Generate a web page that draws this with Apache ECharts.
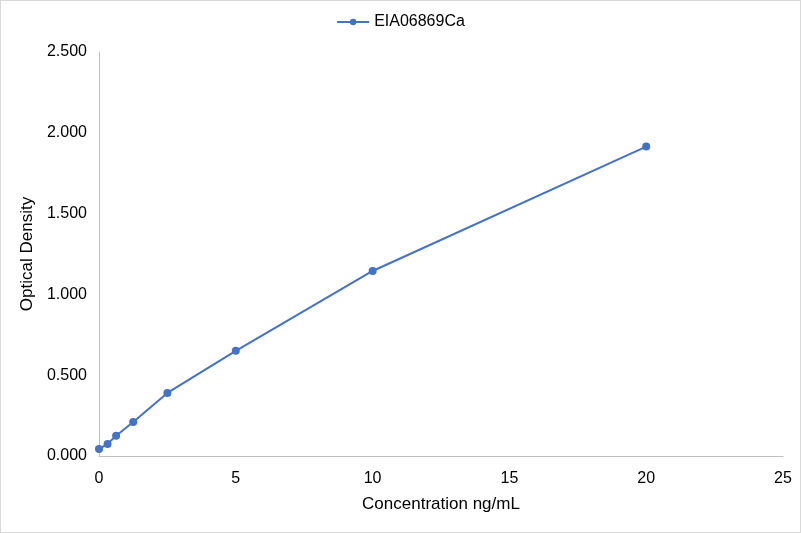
<!DOCTYPE html>
<html>
<head>
<meta charset="utf-8">
<script src="https://cdn.jsdelivr.net/npm/echarts@6/dist/echarts.min.js"></script>
<style>
  html, body { margin: 0; padding: 0; background: #fff; }
  #chart { width: 801px; height: 533px; box-sizing: border-box; border: 1px solid #d9d9d9; }
</style>
</head>
<body>
<div id="chart"></div>
<script>
// standard curve readings
let concentrations = [0, 0.3125, 0.625, 1.25, 2.5, 5, 10, 20];
let densities = [0.043, 0.075, 0.125, 0.211, 0.390, 0.651, 1.145, 1.915];
let seriesName = 'EIA06869Ca';

let points = concentrations.map(function (c, i) { return [c, densities[i]]; });

let myChart = echarts.init(document.getElementById('chart'));
myChart.setOption({
  animation: false,
  color: ['#4472C4'],
  textStyle: { fontFamily: 'Liberation Sans, Arial, sans-serif' },
  legend: {
    top: 8,
    left: 'center',
    itemWidth: 32,
    itemHeight: 8,
    itemGap: 6,
    textStyle: { color: '#000', fontSize: 16 },
    data: [seriesName]
  },
  grid: { left: 98, right: 17, top: 51, bottom: 76 },
  xAxis: {
    type: 'value',
    min: 0,
    max: 25,
    interval: 5,
    name: 'Concentration ng/mL',
    nameLocation: 'middle',
    nameGap: 40,
    nameTextStyle: { color: '#000', fontSize: 17 },
    axisLine: { lineStyle: { color: '#bfbfbf', width: 1 } },
    axisTick: { show: false },
    axisLabel: { color: '#000', fontSize: 16, margin: 15 },
    splitLine: { show: false }
  },
  yAxis: {
    type: 'value',
    min: 0,
    max: 2.5,
    interval: 0.5,
    name: 'Optical Density',
    nameLocation: 'middle',
    nameGap: 57,
    nameTextStyle: { color: '#000', fontSize: 17 },
    axisLine: { show: true, lineStyle: { color: '#bfbfbf', width: 1 } },
    axisTick: { show: false },
    axisLabel: {
      color: '#000',
      fontSize: 16,
      margin: 12,
      formatter: function (v) { return v.toFixed(3); }
    },
    splitLine: { show: false }
  },
  series: [{
    name: seriesName,
    type: 'line',
    data: points,
    symbol: 'circle',
    symbolSize: 8,
    lineStyle: { width: 2 },
    itemStyle: { color: '#4472C4' }
  }]
});
</script>
</body>
</html>
